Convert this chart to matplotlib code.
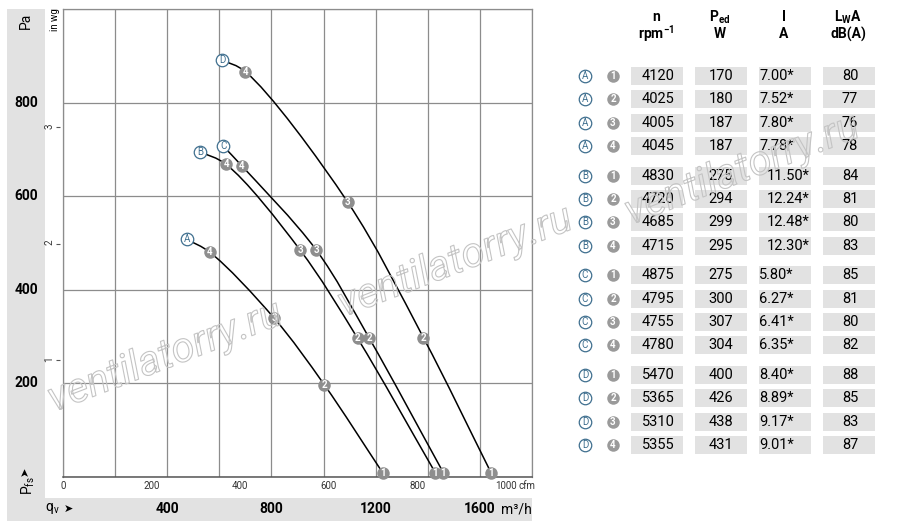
import numpy as np
import matplotlib.pyplot as plt
import matplotlib.patheffects as pe
from matplotlib.path import Path
from matplotlib.patches import PathPatch, Rectangle

plt.rcParams['font.family'] = ['Roboto', 'DejaVu Sans']
plt.rcParams['mathtext.fontset'] = 'custom'
plt.rcParams['mathtext.rm'] = 'Roboto'
plt.rcParams['mathtext.bf'] = 'Roboto:bold'
plt.rcParams['mathtext.it'] = 'Roboto:italic'

# fan curves: first value = curve start (letter), then operating points 4, 3, 2, 1
curve_letters = ['A', 'B', 'C', 'D']
point_numbers = [4, 3, 2, 1]
qv_A = [475, 564, 811, 1003, 1227]
pf_A = [508, 480, 339, 197, 9]
qv_B = [526, 626, 910, 1131, 1429]
pf_B = [695, 668, 485, 296, 9]
qv_C = [615, 686, 972, 1176, 1460]
pf_C = [707, 665, 485, 296, 9]
qv_D = [611, 700, 1093, 1383, 1643]
pf_D = [891, 866, 587, 298, 9]

pa_labels = [200, 400, 600, 800]
m3h_labels = [400, 800, 1200, 1600]
cfm_ticks = [0, 200, 400, 600, 800, 1000]
inwg_ticks = [1, 2, 3]

# table (rows A1..A4, B1..B4, C1..C4, D1..D4)
rpm = [4120, 4025, 4005, 4045, 4830, 4720, 4685, 4715,
       4875, 4795, 4755, 4780, 5470, 5365, 5310, 5355]
p_ed = [170, 180, 187, 187, 275, 294, 299, 295,
        275, 300, 307, 304, 400, 426, 438, 431]
current = [7.00, 7.52, 7.80, 7.78, 11.50, 12.24, 12.48, 12.30,
           5.80, 6.27, 6.41, 6.35, 8.40, 8.89, 9.17, 9.01]
lwa = [80, 77, 76, 78, 84, 81, 80, 83, 85, 81, 80, 82, 88, 85, 83, 87]

GRAY_BAND = '#e2e2e2'
GRID = '#8c8c8c'
DOT = '#8e8e8e'
BLUE = '#3f6f8f'
PA_PER_INWG = 249.09
M3H_PER_CFM = 1.699


def smooth_path(ax, xs, ys, a=0.5):
    # centripetal Catmull-Rom through the points, as cubic Bezier segments
    pts = ax.transData.transform(np.column_stack([xs, ys]))
    ext = np.vstack([2 * pts[0] - pts[1], pts, 2 * pts[-1] - pts[-2]])
    verts = [pts[0]]
    codes = [Path.MOVETO]
    for i in range(1, len(pts)):
        p0, p1, p2, p3 = ext[i - 1], ext[i], ext[i + 1], ext[i + 2]
        d1 = np.linalg.norm(p1 - p0) ** a
        d2 = np.linalg.norm(p2 - p1) ** a
        d3 = np.linalg.norm(p3 - p2) ** a
        b1 = (d1**2 * p2 - d2**2 * p0 + (2*d1**2 + 3*d1*d2 + d2**2) * p1) / (3*d1*(d1 + d2))
        b2 = (d3**2 * p1 - d2**2 * p3 + (2*d3**2 + 3*d3*d2 + d2**2) * p2) / (3*d3*(d3 + d2))
        verts += [b1, b2, p2]
        codes += [Path.CURVE4] * 3
    return Path(ax.transData.inverted().transform(np.array(verts)), codes)


fig = plt.figure(figsize=(9, 5.24), dpi=100)

# background layer in pixel coordinates
bg = fig.add_axes([0, 0, 1, 1], zorder=-1)
bg.set_xlim(0, 900)
bg.set_ylim(524, 0)
bg.axis('off')
bg.add_patch(Rectangle((7, 9), 38, 489, color=GRAY_BAND, lw=0))
bg.add_patch(Rectangle((7, 498), 525, 23, color=GRAY_BAND, lw=0))
bg.text(26, 21, 'Pa', rotation=90, ha='center', va='center', fontsize=10)
bg.text(55, 20, 'in wg', rotation=90, ha='center', va='center', fontsize=7)
bg.text(25, 471, '\u27a4', rotation=90, ha='center', va='center', fontsize=8,
        family='DejaVu Sans')
bg.text(28, 486, r'$\mathregular{P_{fs}}$', rotation=90, ha='center',
        va='center', fontsize=10)
bg.text(52, 508, r'$\mathregular{q_{v}}$', ha='center', va='center', fontsize=10)
bg.text(68, 509, '\u27a4', ha='center', va='center', fontsize=8,
        family='DejaVu Sans')
bg.text(516, 509, 'm³/h', ha='center', va='center', fontsize=10)

# main chart
ax = fig.add_axes([63 / 900, 1 - 477 / 524, 469 / 900, 468 / 524])
ax.set_xlim(0, 1800)
ax.set_ylim(0, 1000)
ax.set_xticks(range(0, 1801, 200))
ax.set_yticks(range(0, 1001, 200))
ax.tick_params(length=0, labelbottom=False, labelleft=False)
ax.grid(color=GRID, lw=0.9)
for s in ax.spines.values():
    s.set_color(GRID)
    s.set_linewidth(0.9)
ax.spines['bottom'].set_color('#555555')
ax.spines['bottom'].set_linewidth(1.1)

for v in pa_labels:
    ax.text(-37 / 469, v, str(v), transform=ax.get_yaxis_transform(),
            ha='center', va='center', fontsize=10, fontweight='bold')
for v in m3h_labels:
    ax.text(v, -32 / 468, str(v), transform=ax.get_xaxis_transform(),
            ha='center', va='center', fontsize=10, fontweight='bold')

sec_y = ax.secondary_yaxis(-3 / 469, functions=(lambda p: p / PA_PER_INWG,
                                                lambda w: w * PA_PER_INWG))
sec_y.set_yticks(inwg_ticks)
sec_y.tick_params(length=3, width=0.8, pad=1, labelsize=7, labelrotation=90,
                  color='#555555', labelcolor='#333333')
sec_y.spines['left'].set_visible(False)

sec_x = ax.secondary_xaxis('bottom', functions=(lambda q: q / M3H_PER_CFM,
                                                 lambda c: c * M3H_PER_CFM))
sec_x.set_xticks(cfm_ticks)
sec_x.tick_params(length=0, pad=3, labelsize=7, labelcolor='#333333')
sec_x.spines['bottom'].set_visible(False)
ax.annotate('cfm', xy=(cfm_ticks[-1] * M3H_PER_CFM, 0),
            xycoords=ax.get_xaxis_transform(), xytext=(9, -3),
            textcoords='offset points', ha='left', va='top', fontsize=7,
            color='#333333')

curves = {'A': (qv_A, pf_A), 'B': (qv_B, pf_B),
          'C': (qv_C, pf_C), 'D': (qv_D, pf_D)}
for letter in curve_letters:
    qv, pf = curves[letter]
    ax.add_patch(PathPatch(smooth_path(ax, qv, pf), fill=False, lw=1.1,
                           ec='black', zorder=3))
    ax.plot(qv[0], pf[0], 'o', ms=9, mfc='white', mec=BLUE, mew=0.9,
            zorder=4, clip_on=False)
    ax.text(qv[0], pf[0], letter, color=BLUE, fontsize=7, ha='center',
            va='center', zorder=5)
    ax.plot(qv[1:], pf[1:], 'o', ms=9, mfc=DOT, mec='none', zorder=4,
            clip_on=False)
    for num, x, y in zip(point_numbers, qv[1:], pf[1:]):
        ax.text(x, y, str(num), color='white', fontsize=7, fontweight='bold',
                ha='center', va='center', zorder=5)

# table
col_left = [631, 695, 759, 823]
cell_w, cell_h = 52, 18
hdr1 = ['n', r'$\mathbf{P_{ed}}$', 'I', r'$\mathbf{L_{W}A}$']
hdr2 = [r'$\mathbf{rpm^{-1}}$', 'W', 'A', 'dB(A)']
for cx, h1, h2 in zip(col_left, hdr1, hdr2):
    bg.text(cx + 25, 17, h1, ha='center', va='center', fontsize=10,
            fontweight='bold')
    bg.text(cx + 25, 34, h2, ha='center', va='center', fontsize=10,
            fontweight='bold')

for r in range(len(rpm)):
    g, i = divmod(r, 4)
    y = 76 + g * 99.7 + i * 23.3
    for cx in col_left:
        bg.add_patch(Rectangle((cx, y - cell_h / 2), cell_w, cell_h,
                               color=GRAY_BAND, lw=0))
    bg.plot(585, y, 'o', ms=9, mfc='white', mec=BLUE, mew=0.9)
    bg.text(585, y, curve_letters[g], color=BLUE, fontsize=7, ha='center',
            va='center')
    bg.plot(613, y, 'o', ms=9, mfc='#9a9a9a', mec='none')
    bg.text(613, y, str(i + 1), color='white', fontsize=7, fontweight='bold',
            ha='center', va='center')
    bg.text(658, y, str(rpm[r]), ha='center', va='center', fontsize=10.5)
    bg.text(721, y, str(p_ed[r]), ha='center', va='center', fontsize=10.5)
    s = f'{current[r]:.2f}*'
    bg.text(759 + (len(s) - 5) * 7.5, y, s, ha='left', va='center',
            fontsize=10.5)
    bg.text(850, y, str(lwa[r]), ha='center', va='center', fontsize=10.5)

# watermark
for wx, wy in [(165, 357), (455, 262), (742, 170)]:
    fig.text(wx / 900, 1 - wy / 524, 'ventilatorry.ru', rotation=21,
             ha='center', va='center', fontsize=30, style='italic',
             color=(1, 1, 1, 0), zorder=10,
             path_effects=[pe.Stroke(linewidth=0.8, foreground='#c4c4c4')])

fig.savefig('out.png', dpi=100)
